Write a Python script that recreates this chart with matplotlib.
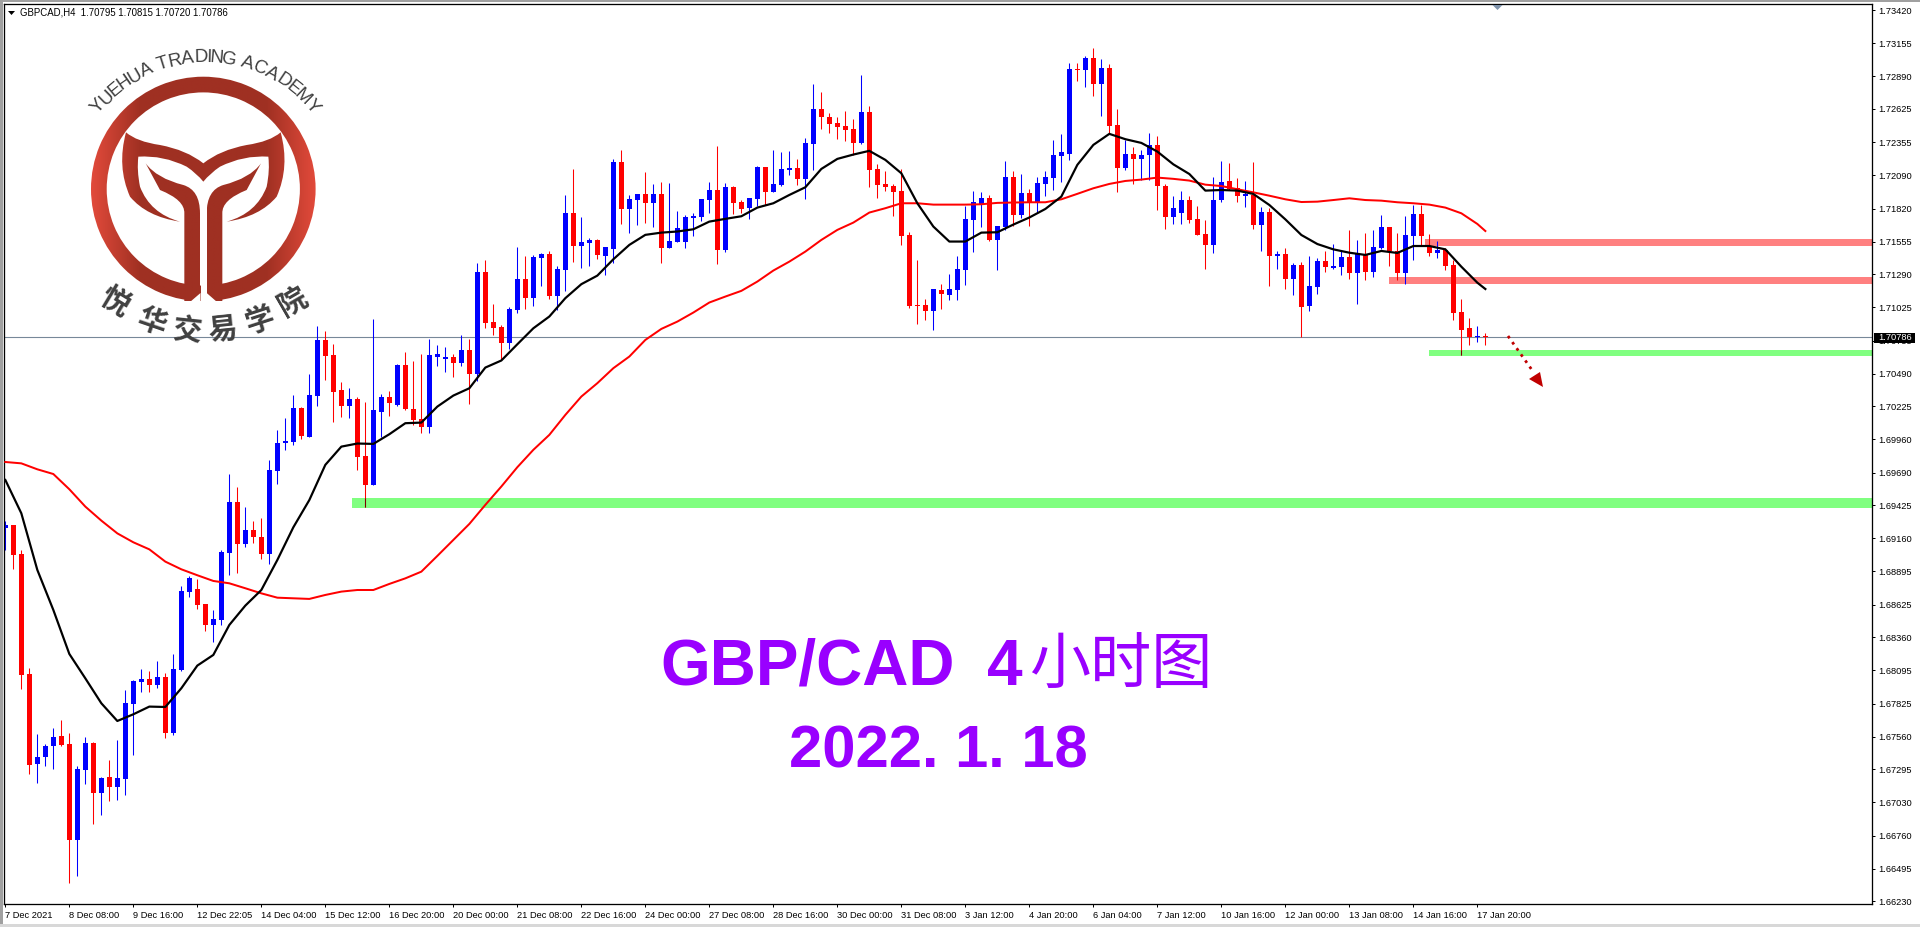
import numpy as np
from matplotlib import pyplot as plt
from matplotlib.patches import Rectangle, Wedge, PathPatch, Polygon
from matplotlib.path import Path
from matplotlib.textpath import TextPath
from matplotlib.font_manager import FontProperties

# GBPCAD H4 candles, prices in points (1 point = 0.00001)
opens = [
    169246,169268,169034,168065,167339,167396,167484,167565,167500,166726,
    167291,167508,167105,167234,167153,167218,167823,168001,168025,167977,
    168041,167589,168098,168727,168751,168630,168461,168501,169042,169453,
    169114,169227,169171,169034,169704,169930,169938,170213,169979,170309,
    170761,170640,170358,170229,170285,169825,169591,170180,170301,170237,
    170560,170204,170124,170059,170624,170608,170624,170576,170681,170487,
    171310,170907,170866,170737,171003,171254,171100,171423,171455,171116,
    171326,171786,171520,171544,171568,171439,171496,172198,171818,171891,
    171940,171867,171940,171504,171552,171552,171746,171754,171891,171972,
    171488,171996,171875,171827,171899,172157,171956,172012,172133,172149,
    172061,172343,172625,172561,172512,172488,172464,172351,172601,172141,
    172020,172004,171964,171609,171044,171044,170995,171165,171124,171165,
    171326,171730,171859,171907,171568,171673,172077,171770,171948,171867,
    172020,172069,172246,172262,172948,172940,173037,172827,172956,172496,
    172149,172262,172222,172254,172335,172003,171753,171786,171890,171737,
    171616,171527,171890,172044,171987,171923,171931,171689,171794,171439,
    171455,171253,171366,171035,171188,171398,171342,171350,171431,171301,
    171447,171309,171503,171673,171479,171301,171600,171778,171519,171463,
    171487,171366,170987,170858,170785,170795]
highs = [
    169300,169268,169066,168114,167581,167500,167630,167694,167589,167323,
    167557,167517,167234,167371,167533,167936,168017,168106,168090,168170,
    168071,168227,168775,168856,168832,168630,168582,169066,169679,169574,
    169413,169300,169324,169792,170035,170132,170317,170223,170487,170874,
    170834,170729,170422,170374,170301,170261,170931,170326,170350,170568,
    170664,170592,170648,170769,170721,170705,170648,170802,170769,171383,
    171407,171052,170882,171028,171512,171439,171447,171463,171480,171358,
    171931,172141,171754,171584,171576,171512,172222,172295,171931,171940,
    172117,172020,172036,172028,171802,171770,171786,171899,172036,172327,
    172028,172004,171891,171907,172165,172157,172295,172278,172287,172222,
    172391,172827,172763,172593,172561,172609,172545,172900,172650,172182,
    172125,172020,172141,171633,171407,171092,171173,171213,171294,171439,
    171843,171964,171956,171931,171681,172206,172125,172101,171980,172077,
    172125,172375,172424,172997,172997,173053,173118,173029,172989,172625,
    172375,172319,172295,172432,172408,172020,171923,171963,171923,171842,
    171729,172076,172205,172189,172068,172044,172197,171834,171826,171479,
    171503,171382,171390,171439,171422,171479,171535,171479,171648,171568,
    171624,171648,171769,171673,171624,171761,171850,171850,171616,171560,
    171503,171406,171092,170938,170874,170815]
lows = [
    169066,168915,167944,167258,167186,167323,167299,167484,166379,166435,
    167178,166855,166927,167040,167048,167089,167412,167920,167920,167952,
    167549,167573,168090,168687,168590,168412,168324,168461,168864,168880,
    169090,169122,168993,168953,169599,169874,169914,169962,169979,170229,
    170438,170100,170140,170132,169712,169414,169591,169979,170148,170229,
    170196,170075,170011,170011,170551,170503,170463,170551,170245,170430,
    170858,170802,170600,170689,170979,171011,171036,171197,171092,171003,
    171157,171391,171342,171358,171415,171286,171383,171697,171625,171689,
    171705,171673,171383,171504,171552,171504,171601,171722,171786,171375,
    171471,171778,171786,171738,171843,171851,171956,172004,172093,172012,
    171899,172133,172464,172432,172383,172367,172254,172343,171996,171907,
    171964,171762,171528,171020,170890,170923,170842,171011,171084,171084,
    171205,171471,171673,171560,171326,171649,171681,171746,171681,171786,
    171923,171972,172036,172214,172851,172803,172730,172569,172424,171956,
    172133,172020,172052,172052,171810,171656,171697,171697,171705,171608,
    171334,171463,171874,171971,171874,171834,171656,171479,171196,171334,
    171172,171124,170785,170995,171132,171309,171334,171285,171253,171051,
    171245,171269,171495,171358,171245,171213,171406,171527,171439,171422,
    171326,170922,170640,170720,170745,170720]
closes = [
    169268,169026,168057,167331,167396,167484,167557,167492,166726,167299,
    167508,167105,167226,167153,167226,167831,168009,168025,167977,168041,
    167589,168106,168735,168840,168622,168461,168509,169050,169453,169114,
    169227,169171,169034,169712,169930,169946,170213,169987,170317,170761,
    170632,170342,170229,170285,169817,169591,170196,170301,170253,170560,
    170204,170116,170059,170640,170648,170624,170576,170681,170487,171310,
    170898,170858,170737,171011,171254,171100,171431,171455,171116,171334,
    171786,171520,171552,171568,171447,171512,172198,171818,171899,171940,
    171867,171940,171504,171560,171665,171754,171762,171899,171972,171488,
    171996,171867,171818,171907,172157,171956,172020,172141,172149,172061,
    172351,172625,172561,172504,172480,172456,172351,172601,172133,172012,
    171996,171956,171601,171036,171036,170995,171173,171133,171173,171334,
    171738,171875,171907,171568,171681,172077,171770,171948,171867,172028,
    172077,172254,172278,172948,172940,173037,172827,172956,172488,172149,
    172262,172222,172254,172335,172004,171753,171826,171890,171729,171608,
    171527,171890,172036,171979,171923,171939,171689,171794,171439,171455,
    171253,171366,171027,171196,171398,171350,171358,171431,171301,171455,
    171309,171511,171673,171479,171301,171608,171778,171600,171463,171487,
    171358,170979,170841,170785,170793,170786]

# moving averages, read every second candle
ma_idx = list(range(0, 186, 2)) + [185]
ma_fast = [
    169631,169362,168905,168582,168227,168030,167829,167686,167740,167802,
    167799,167950,168133,168219,168461,168617,168743,168985,169249,169469,
    169753,169900,169925,169922,170000,170089,170094,170223,170312,170371,
    170538,170595,170726,170855,170950,171098,171211,171280,171412,171528,
    171609,171627,171636,171654,171716,171738,171759,171829,171864,171931,
    171993,172141,172222,172257,172287,172214,172106,171864,171676,171555,
    171555,171627,171630,171692,171749,171818,171918,172174,172335,172424,
    172381,172351,172281,172178,172100,171966,171971,171966,171939,171850,
    171734,171608,171535,171492,171465,171447,171479,171463,171519,171519,
    171492,171352,171223,171172]
ma_slow = [
    169776,169765,169717,169679,169556,169416,169303,169200,169128,169071,
    168972,168910,168862,168816,168797,168757,168716,168681,168676,168671,
    168703,168730,168743,168743,168792,168837,168891,169018,169147,169276,
    169430,169578,169734,169874,169995,170156,170304,170412,170533,170627,
    170761,170850,170909,170982,171063,171111,171157,171232,171321,171393,
    171474,171568,171649,171708,171789,171824,171864,171864,171853,171853,
    171853,171856,171867,171870,171872,171872,171896,171940,171985,172020,
    172044,172055,172071,172061,172047,172014,172003,171977,171952,171925,
    171896,171874,171877,171890,171904,171890,171885,171872,171864,171853,
    171829,171783,171697,171640]

# support / resistance zones: start candle, top price, bottom price
zone_start = [43.3, 178.0, 177.5, 173.0]
zone_top = [1.69486, 1.70680, 1.71576, 1.71269]
zone_bottom = [1.69405, 1.70632, 1.71520, 1.71213]
zone_color = ['#80ff80', '#80ff80', '#ff8080', '#ff8080']

last_price = 1.70786

y_ticks = [1.73420,1.73155,1.72890,1.72625,1.72355,1.72090,1.71820,1.71555,1.71290,1.71025,1.70755,
           1.70490,1.70225,1.69960,1.69690,1.69425,1.69160,1.68895,1.68625,1.68360,1.68095,
           1.67825,1.67560,1.67295,1.67030,1.66760,1.66495,1.66230]
x_labels = ['7 Dec 2021','8 Dec 08:00','9 Dec 16:00','12 Dec 22:05','14 Dec 04:00','15 Dec 12:00',
            '16 Dec 20:00','20 Dec 00:00','21 Dec 08:00','22 Dec 16:00','24 Dec 00:00','27 Dec 08:00',
            '28 Dec 16:00','30 Dec 00:00','31 Dec 08:00','3 Jan 12:00','4 Jan 20:00','6 Jan 04:00',
            '7 Jan 12:00','10 Jan 16:00','12 Jan 00:00','13 Jan 08:00','14 Jan 16:00','17 Jan 20:00']

W, H = 1920, 927
ui_font = 'Liberation Sans'
ui_size = 6.7
px = 0.72  # one pixel in points at dpi 100

fig = plt.figure(figsize=(W/100, H/100), dpi=100, facecolor='white')
ax = fig.add_axes([4/W, (H-904)/H, (1872-4)/W, 900/H])
ax.set_xlim(-0.166, 233.33)
ax.set_ylim(1.66209, 1.73472)
ax.set_facecolor('none')
for s in ax.spines.values():
    s.set_linewidth(px*1.3)
    s.set_color('black')

o = np.array(opens)/1e5
h = np.array(highs)/1e5
l = np.array(lows)/1e5
c = np.array(closes)/1e5
x = np.arange(len(o))
col = np.where(c > o, '#0000ff', '#ff0000')

# zones
for st, t, b, cl in zip(zone_start, zone_top, zone_bottom, zone_color):
    ax.add_patch(Rectangle((st, b), 233.33-st, t-b, color=cl, lw=0, zorder=1))

# last price line
ax.axhline(last_price, color='#778899', lw=px*1.1, zorder=1.5)

# candles
ax.vlines(x, l, h, colors=col, lw=px*1.05, zorder=2)
ax.bar(x, np.abs(c-o), bottom=np.minimum(o, c), width=0.625, color=col, lw=0, zorder=2.1, antialiased=False)

# wicks show dark where they cross the green zones
for st, t, b, cl in zip(zone_start, zone_top, zone_bottom, zone_color):
    if cl != '#80ff80':
        continue
    for i in x:
        if i >= st and l[i] < t and h[i] > b:
            ax.vlines(i, max(l[i], b), min(h[i], t), colors='#7a0000', lw=px*1.05, zorder=2.2)

# moving averages
ax.plot(ma_idx, np.array(ma_slow)/1e5, color='#ff0000', lw=px*2, zorder=3)
ax.plot(ma_idx, np.array(ma_fast)/1e5, color='black', lw=px*2.2, zorder=3.1)

# axes ticks
ax.yaxis.tick_right()
ax.set_yticks(y_ticks)
ax.set_yticklabels(['%.5f' % v for v in y_ticks], fontsize=ui_size, family=ui_font, color='black')
ax.tick_params(axis='y', direction='out', length=2.5, width=px, pad=2.2)
ax.set_xticks(np.arange(len(x_labels))*8)
ax.set_xticklabels(x_labels, fontsize=ui_size, family=ui_font, ha='left', color='black')
ax.tick_params(axis='x', direction='out', length=2.5, width=px, pad=2.2)

# overlay in pixel coordinates for window decoration, logo and captions
ov = fig.add_axes([0, 0, 1, 1], facecolor='none')
ov.set_xlim(0, W)
ov.set_ylim(H, 0)
ov.axis('off')

# window border
ov.add_patch(Rectangle((0, 0), W, 2, color='#a0a0a0', lw=0))
ov.add_patch(Rectangle((0, 0), 2.5, H-3, color='#a0a0a0', lw=0))
ov.add_patch(Rectangle((0, H-3), W, 3, color='#d8d8d8', lw=0))

# header
ov.add_patch(Polygon([(8, 11), (15, 11), (11.5, 15)], color='black', lw=0))
ov.text(20, 12.5, 'GBPCAD,H4  1.70795 1.70815 1.70720 1.70786', fontsize=ui_size+0.2, family=ui_font,
        va='center', ha='left', color='black')
# chart shift marker
ov.add_patch(Polygon([(1492.5, 5), (1502.5, 5), (1497.5, 10)], color='#7f93ab', lw=0))

# arrow
ov.plot([1508, 1532], [336, 370], color='#c00000', lw=2, ls=(0, (1, 1.7)))
ov.add_patch(Polygon([(1543, 387), (1529, 379), (1540, 372)], color='#c00000', lw=0))

# logo, shape coordinates are 3x pixels
grad_x = np.linspace(0, 1, 256)
grad = np.clip((np.abs(grad_x-0.5)-0.28)/0.22, 0, 1)
c0 = np.array([0x9f, 0x30, 0x22])/255
c1 = np.array([0xe2, 0x4a, 0x3b])/255
grad_img = (c0[None, None, :]*(1-grad[None, :, None]) + c1[None, None, :]*grad[None, :, None])


def scaled(verts, codes):
    return Path(np.array(verts)/3.0, codes)


M, L, C, Z = Path.MOVETO, Path.LINETO, Path.CURVE3, Path.CLOSEPOLY
tail_v = [(378, 397), (410, 425), (480, 435), (560, 450), (610, 490), (660, 450), (740, 435), (810, 425), (842, 397),
          (870, 500), (830, 590), (780, 650), (680, 665), (770, 640), (800, 560), (810, 510), (805, 470),
          (730, 465), (660, 500), (630, 520), (610, 545), (590, 520), (560, 500), (490, 465), (415, 470),
          (410, 510), (420, 560), (450, 640), (540, 665), (440, 650), (390, 590), (350, 500), (378, 397), (378, 397)]
tail_c = [M, C, C, C, C, C, C, C, C,
          C, C, C, C, C, C, C, C,
          C, C, C, C, C, C, C, C,
          C, C, C, C, C, C, C, C, Z]
stem_l_v = [(437, 490), (470, 535), (550, 555), (600, 570), (600, 640), (600, 905), (553, 905), (553, 640), (555, 600),
            (480, 570), (437, 490), (437, 490)]
stem_l_c = [M, C, C, C, C, L, L, L, C, C, C, Z]
stem_r_v = [(1220-a, b) for a, b in stem_l_v]

shapes = [Wedge((203.3, 189), 112.3, 0, 360, width=15.7, transform=ov.transData),
          PathPatch(scaled(tail_v, tail_c), transform=ov.transData),
          PathPatch(scaled(stem_l_v, stem_l_c), transform=ov.transData),
          PathPatch(scaled(stem_r_v, stem_l_c), transform=ov.transData)]
for sh in shapes:
    im = ov.imshow(grad_img, extent=(91, 315.6, 301.5, 76), aspect='auto', zorder=0.5, interpolation='bilinear')
    im.set_clip_path(sh)
ov.set_xlim(0, W)
ov.set_ylim(H, 0)
# slit and chamfers at the foot of the stem
ov.add_patch(Rectangle((200.5, 205), 6.2, 99, color='white', lw=0, zorder=0.6))
ov.add_patch(Polygon([(200.5, 293), (190, 302), (190, 304), (200.5, 304)], color='white', lw=0, zorder=0.6))
ov.add_patch(Polygon([(206.7, 293), (217, 302), (217, 304), (206.7, 304)], color='white', lw=0, zorder=0.6))

# arc lettering above the logo
arc_txt = 'YUEHUA TRADING ACADEMY'
fp = FontProperties(family='Liberation Sans')
arc_size = 13.5
arc_w = []
for ch in arc_txt:
    if ch == ' ':
        arc_w.append(4.8)
    else:
        arc_w.append(TextPath((0, 0), ch, size=arc_size*100/72, prop=fp).get_extents().width+1.0)
arc_r = 136
arc_cx, arc_cy = 205, 198
total = sum(arc_w)
pos = -total/2
for ch, wd in zip(arc_txt, arc_w):
    ang = (pos+wd/2)/arc_r
    ov.text(arc_cx+arc_r*np.sin(ang), arc_cy-arc_r*np.cos(ang), ch, fontsize=arc_size, family='Liberation Sans',
            color='#404040', rotation=-np.degrees(ang), rotation_mode='anchor', ha='center', va='baseline', zorder=0.7)
    pos += wd

cn_chars = ['悦', '华', '交', '易', '学', '院']
cn_x = [115, 152, 187, 223, 260, 293]
cn_y = [301, 321, 330, 330, 320, 301]
cn_rot = [-31, -19, -6, 6, 18, 30]
for ch, cx, cy, rt in zip(cn_chars, cn_x, cn_y, cn_rot):
    ov.text(cx, cy, ch, fontsize=21, family='Noto Sans CJK SC', weight='bold', color='#404040',
            rotation=rt, rotation_mode='anchor', ha='center', va='center', zorder=0.7)

# captions
purple = '#9900ff'
ov.text(660, 685, 'GBP/CAD', fontsize=46, family='Liberation Sans', weight='bold', color=purple, ha='left', va='baseline')
ov.text(987, 685, '4', fontsize=46, family='Liberation Sans', weight='bold', color=purple, ha='left', va='baseline')
ov.text(1029, 667, '小时图', fontsize=44, family='Noto Sans CJK SC', color=purple, ha='left', va='center')
ov.text(938, 767, '2022. 1. 18', fontsize=43, family='Liberation Sans', weight='bold', color=purple, ha='center', va='baseline')

# last price tag
ov.add_patch(Rectangle((1874, 332.5), 41, 10.5, color='black', lw=0, zorder=4))
ov.text(1878, 337.8, '1.70786', fontsize=ui_size, family=ui_font, color='white', va='center', ha='left', zorder=5)

fig.savefig('out.png', dpi=100)
